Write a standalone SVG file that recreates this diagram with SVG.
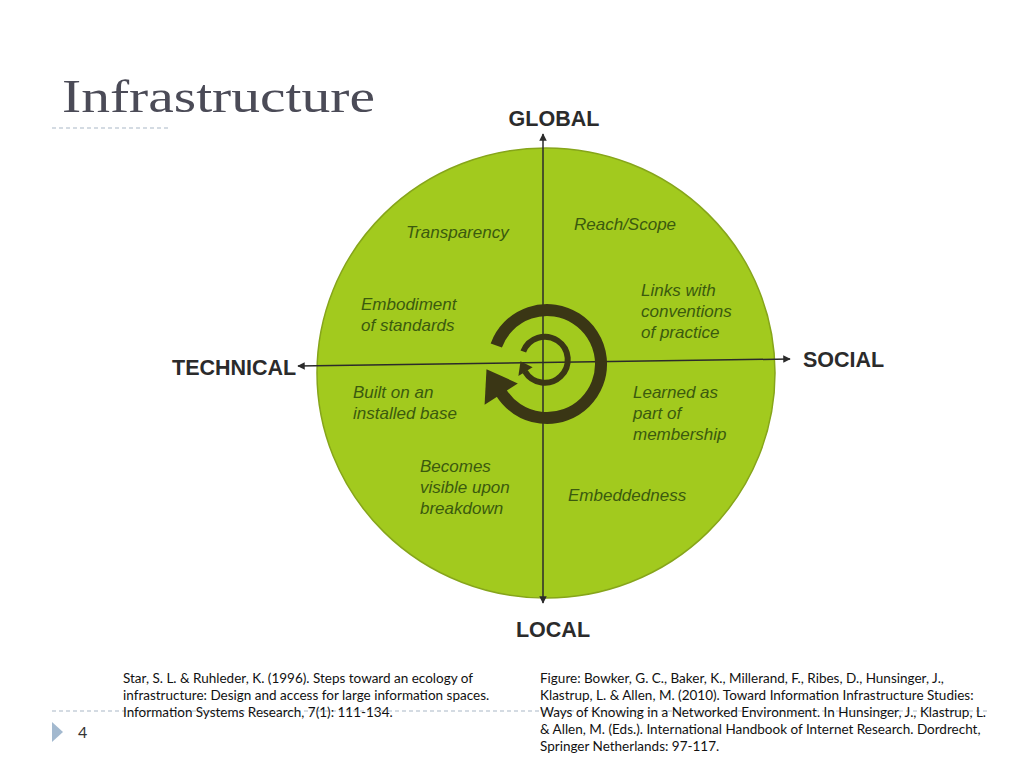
<svg xmlns="http://www.w3.org/2000/svg" width="1024" height="768" viewBox="0 0 1024 768">
<defs>
<style>
.title{font-family:"Liberation Serif","DejaVu Serif",serif;font-size:47px;fill:#4b4b57}
.axis{font-family:"Liberation Sans",Arial,sans-serif;font-weight:bold;font-size:21.5px;fill:#2b2b2b}
.lab{font-family:"Liberation Sans",Arial,sans-serif;font-style:italic;font-size:17px;fill:#3b5a0e}
.ref{font-family:Lato,"Open Sans",sans-serif;font-size:13.5px;fill:#111}
.dash{stroke:#a9b7c6;stroke-width:1;stroke-dasharray:4 3;fill:none}
.ax{stroke:#2b2b2b;stroke-width:1.5;fill:none}
.cyc{stroke:#3a3615;fill:none}
</style>
<marker id="ah" viewBox="0 0 10 10" refX="9" refY="5" markerWidth="5" markerHeight="5" orient="auto-start-reverse">
<path d="M0,0 L10,5 L0,10 z" fill="#2b2b2b"/>
</marker>
</defs>
<rect width="1024" height="768" fill="#ffffff"/>
<text class="title" x="62" y="112" textLength="313" lengthAdjust="spacingAndGlyphs">Infrastructure</text>
<line class="dash" x1="52" y1="128" x2="170" y2="128"/>
<line class="dash" x1="52" y1="711" x2="990" y2="711"/>
<g id="slide-number">
<polygon points="52,722 52,742 63,732" fill="#a3b9cf"/>
<text x="78" y="738" font-family="Lato,'Open Sans',sans-serif" font-size="16" fill="#333">4</text>
</g>
<g id="circle">
<ellipse cx="546" cy="373" rx="229" ry="225" fill="#a2ca1e" stroke="#86a51a" stroke-width="1.5"/>
</g>
<g id="connectors">
<line class="ax" x1="543" y1="603" x2="543" y2="134" marker-end="url(#ah)" marker-start="url(#ah)"/>
<line class="ax" x1="298" y1="366" x2="790" y2="359" marker-end="url(#ah)" marker-start="url(#ah)"/>
</g>
<g id="cycle">
<path class="cyc" stroke-width="12" d="M496.3,345.5 A54,54 0 1 1 501.2,392.6"/>
<polygon fill="#3a3615" points="484.6,404.8 517.8,383.4 486.5,369.2"/>
<path class="cyc" stroke-width="6" d="M523.3,351.5 A23,23 0 1 1 525.0,371.5"/>
<polygon fill="#3a3615" points="518.4,376 532.6,367.2 520.5,361.2"/>
</g>
<g id="global"><text class="axis" x="554" y="126" text-anchor="middle">GLOBAL</text></g>
<g id="local"><text class="axis" x="553" y="637" text-anchor="middle">LOCAL</text></g>
<g id="technical"><text class="axis" x="172" y="375">TECHNICAL</text></g>
<g id="social"><text class="axis" x="803" y="367">SOCIAL</text></g>
<g id="transparency"><text class="lab" x="406" y="238">Transparency</text></g>
<g id="reach"><text class="lab" x="574" y="230">Reach/Scope</text></g>
<g id="embodiment"><text class="lab" x="361" y="310">Embodiment</text><text class="lab" x="361" y="331">of standards</text></g>
<g id="links"><text class="lab" x="641" y="296">Links with</text><text class="lab" x="641" y="317">conventions</text><text class="lab" x="641" y="338">of practice</text></g>
<g id="built"><text class="lab" x="353" y="398">Built on an</text><text class="lab" x="353" y="419">installed base</text></g>
<g id="learned"><text class="lab" x="633" y="398">Learned as</text><text class="lab" x="633" y="419">part of</text><text class="lab" x="633" y="440">membership</text></g>
<g id="becomes"><text class="lab" x="420" y="472">Becomes</text><text class="lab" x="420" y="493">visible upon</text><text class="lab" x="420" y="514">breakdown</text></g>
<g id="embeddedness"><text class="lab" x="568" y="501">Embeddedness</text></g>
<g id="ref-left">
<text class="ref" x="123" y="683">Star, S. L. &amp; Ruhleder, K. (1996). Steps toward an ecology of</text>
<text class="ref" x="123" y="700">infrastructure: Design and access for large information spaces.</text>
<text class="ref" x="123" y="717">Information Systems Research, 7(1): 111-134.</text>
</g>
<g id="ref-right">
<text class="ref" x="540" y="683">Figure: Bowker, G. C., Baker, K., Millerand, F., Ribes, D., Hunsinger, J.,</text>
<text class="ref" x="540" y="700">Klastrup, L. &amp; Allen, M. (2010). Toward Information Infrastructure Studies:</text>
<text class="ref" x="540" y="717">Ways of Knowing in a Networked Environment. In Hunsinger, J., Klastrup, L.</text>
<text class="ref" x="540" y="734">&amp; Allen, M. (Eds.). International Handbook of Internet Research. Dordrecht,</text>
<text class="ref" x="540" y="751">Springer Netherlands: 97-117.</text>
</g>
</svg>
